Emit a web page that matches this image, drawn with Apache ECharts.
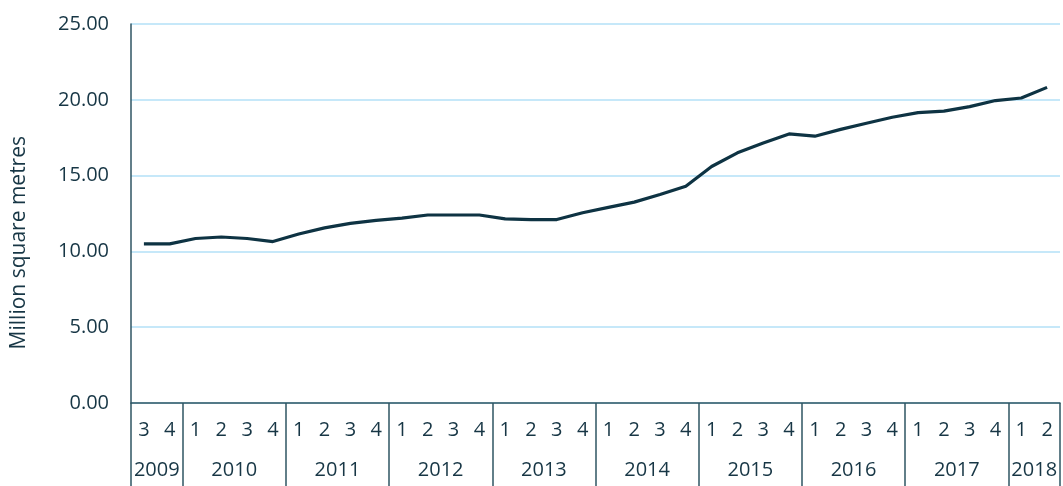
<!DOCTYPE html>
<html>
<head>
<meta charset="utf-8">
<script src="https://cdn.jsdelivr.net/npm/echarts@6/dist/echarts.min.js"></script>
<style>
  html, body { margin: 0; padding: 0; background: #fff; }
  #chart { width: 1063px; height: 486px; }
</style>
</head>
<body>
<div id="chart"></div>
<script>
// quarters 2009 Q3 .. 2018 Q2
var quarters = ["3","4",
  "1","2","3","4", "1","2","3","4", "1","2","3","4", "1","2","3","4",
  "1","2","3","4", "1","2","3","4", "1","2","3","4", "1","2","3","4",
  "1","2"];
var years = ["2009","2010","2011","2012","2013","2014","2015","2016","2017","2018"];
var floorSpace = [10.5, 10.5,
  10.85, 10.95, 10.85, 10.65,
  11.15, 11.55, 11.85, 12.05,
  12.2, 12.4, 12.4, 12.4,
  12.15, 12.1, 12.1, 12.55,
  12.9, 13.25, 13.75, 14.3,
  15.6, 16.5, 17.15, 17.75,
  17.6, 18.05, 18.45, 18.85,
  19.15, 19.25, 19.55, 19.95,
  20.12, 20.82];
var yTicks = [0, 5, 10, 15, 20, 25];

// year boundaries and year centres, in quarter units from the left edge
var yearEdges = [0];
quarters.forEach(function (q, i) { if (i > 0 && q === "1") yearEdges.push(i); });
yearEdges.push(quarters.length);
var yearCentres = [];
for (var k = 0; k < yearEdges.length - 1; k++) {
  yearCentres.push((yearEdges[k] + yearEdges[k + 1]) / 2);
}

var textCol = "#173645";
var axisCol = "#2f5563";
var font = "Open Sans";

var chart = echarts.init(document.getElementById("chart"));
chart.setOption({
  animation: false,
  textStyle: { fontFamily: font },
  grid: { left: 131, top: 24, right: 3, bottom: 83 },
  graphic: [{
    type: "text",
    left: 9,
    top: 136,
    rotation: Math.PI / 2,
    style: {
      text: "Million square metres",
      fill: textCol,
      font: "21px '" + font + "'"
    }
  }],
  xAxis: [
    {
      type: "category",
      data: quarters,
      boundaryGap: true,
      axisLine: { lineStyle: { color: axisCol, width: 1.5 } },
      axisTick: { show: false },
      axisLabel: { color: textCol, fontSize: 20, margin: 17, interval: 0 }
    },
    {
      type: "value",
      position: "bottom",
      min: 0,
      max: quarters.length,
      offset: 0,
      axisLine: { show: false },
      splitLine: { show: false },
      axisTick: {
        show: true,
        length: 83,
        customValues: yearEdges,
        lineStyle: { color: axisCol, width: 1.5 }
      },
      axisLabel: {
        color: textCol,
        fontSize: 20,
        margin: 57,
        customValues: yearCentres,
        formatter: function (v) {
          var k = yearCentres.indexOf(v);
          return k >= 0 ? years[k] : "";
        }
      }
    }
  ],
  yAxis: {
    type: "value",
    min: yTicks[0],
    max: yTicks[yTicks.length - 1],
    interval: 5,
    axisLine: { show: true, lineStyle: { color: axisCol, width: 1.5 } },
    axisTick: { show: false },
    splitLine: { lineStyle: { color: "#b3e0f7", width: 1.5 } },
    axisLabel: {
      color: textCol,
      fontSize: 20,
      margin: 22,
      formatter: function (v) { return v.toFixed(2); }
    }
  },
  series: [{
    type: "line",
    xAxisIndex: 0,
    data: floorSpace,
    symbol: "none",
    lineStyle: { color: "#0e3343", width: 3.2 }
  }]
});
</script>
</body>
</html>
